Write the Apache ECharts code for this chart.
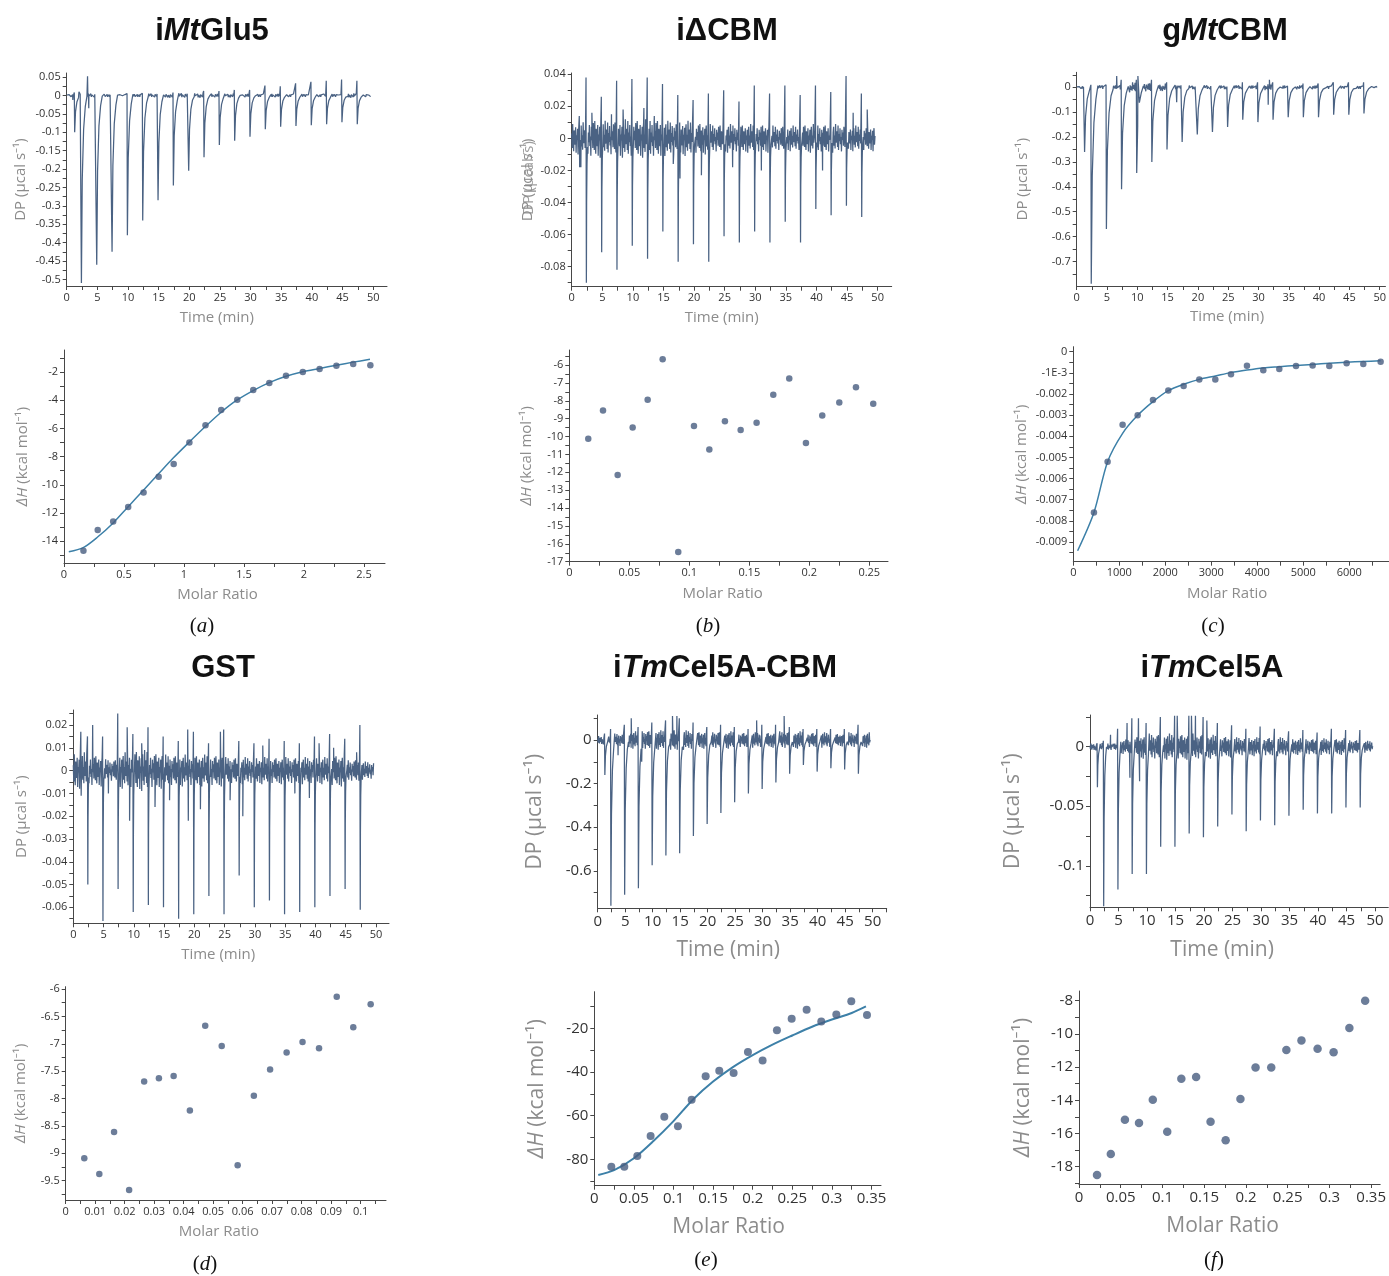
<!DOCTYPE html>
<html>
<head>
<meta charset="utf-8">
<title>ITC thermograms and isotherms</title>
<script src="https://cdn.jsdelivr.net/npm/echarts@6.0.0/dist/echarts.min.js"></script>
<style>
  html, body { margin: 0; padding: 0; background: #ffffff; }
  #chart { width: 1389px; height: 1276px; }
</style>
</head>
<body>
<div id="chart"></div>
<script>
// ---- injection times (min), shared by all six runs
var injT = [1.3, 2.4, 4.9, 7.4, 9.9, 12.4, 14.9, 17.4, 19.9, 22.4, 24.9, 27.4, 29.9, 32.4, 34.9, 37.4, 39.9, 42.4, 44.9, 47.4];

// ---- thermograms: dip minimum, spike maximum, baseline noise band (per injection), extra isolated points [t, DP]
var dipA = [-0.10, -0.51, -0.46, -0.425, -0.38, -0.34, -0.285, -0.245, -0.205, -0.168, -0.135, -0.123, -0.112, -0.092, -0.085, -0.083, -0.081, -0.078, -0.073, -0.078];
var spikeA = [0.008, 0.006, 0.004, 0.004, 0.005, 0.006, 0.008, 0.008, 0.01, 0.012, 0.012, 0.015, 0.015, 0.027, 0.025, 0.033, 0.037, 0.04, 0.043, 0.04];
var noiseA = [0.004, 0.005, 0.004, 0.004, 0.004, 0.005, 0.006, 0.006, 0.006, 0.005, 0.005, 0.005, 0.004, 0.005, 0.004, 0.004, 0.004, 0.004, 0.006, 0.004];
var extraA = [[1.0, -0.012], [2.0, 0.01], [3.4, 0.052], [3.6, -0.035]];

var dipB = [-0.018, -0.09, -0.071, -0.082, -0.067, -0.075, -0.058, -0.077, -0.066, -0.077, -0.061, -0.065, -0.058, -0.065, -0.052, -0.065, -0.044, -0.048, -0.042, -0.049];
var spikeB = [0.014, 0.038, 0.026, 0.036, 0.037, 0.038, 0.034, 0.027, 0.024, 0.028, 0.030, 0.023, 0.033, 0.028, 0.033, 0.027, 0.033, 0.029, 0.039, 0.028];
var noiseB = [0.01, 0.012, 0.011, 0.012, 0.012, 0.012, 0.011, 0.011, 0.01, 0.009, 0.009, 0.009, 0.009, 0.008, 0.008, 0.009, 0.009, 0.009, 0.008, 0.008];
var extraB = [[1.5, -0.018], [3.3, 0.016], [6.5, 0.015], [8.4, 0.018], [11.8, 0.019], [13.5, 0.014], [16.6, -0.016], [17.7, -0.025], [21.2, -0.023], [26.3, -0.018], [31.0, -0.02], [41.0, -0.02], [46.0, 0.016], [48.3, 0.018]];

var dipC = [-0.26, -0.79, -0.57, -0.41, -0.345, -0.30, -0.25, -0.22, -0.19, -0.18, -0.16, -0.13, -0.14, -0.13, -0.12, -0.12, -0.12, -0.11, -0.11, -0.105];
var spikeC = [0.005, 0.01, 0.01, 0.03, 0.03, 0.03, 0.02, 0.01, 0.01, 0.01, 0.01, 0.02, 0.02, 0.02, 0.01, 0.015, 0.015, 0.02, 0.02, 0.02];
var noiseC = [0.006, 0.008, 0.01, 0.02, 0.018, 0.015, 0.01, 0.008, 0.008, 0.008, 0.008, 0.008, 0.012, 0.008, 0.008, 0.008, 0.006, 0.006, 0.006, 0.006];
var extraC = [[6.6, 0.045], [10.1, 0.045], [16.5, -0.06], [31.6, -0.07], [31.8, 0.03]];

var dipD = [-0.011, -0.05, -0.066, -0.052, -0.062, -0.059, -0.06, -0.065, -0.063, -0.055, -0.063, -0.046, -0.06, -0.057, -0.063, -0.062, -0.06, -0.055, -0.052, -0.061];
var spikeD = [0.017, 0.015, 0.015, 0.025, 0.016, 0.019, 0.015, 0.013, 0.017, 0.012, 0.018, 0.013, 0.012, 0.014, 0.013, 0.012, 0.015, 0.016, 0.014, 0.02];
var noiseD = [0.008, 0.007, 0.005, 0.008, 0.009, 0.008, 0.007, 0.007, 0.007, 0.007, 0.006, 0.006, 0.006, 0.006, 0.006, 0.006, 0.006, 0.007, 0.005, 0.004];
var extraD = [[3.2, 0.02], [5.8, -0.01], [8.9, 0.019], [9.3, -0.022], [11.3, 0.012], [13.5, -0.016], [15.9, -0.013], [18.9, 0.018], [19.0, -0.022], [21.0, -0.017], [24.3, 0.017], [25.9, -0.013], [28.0, -0.02], [31.3, 0.011], [36.6, -0.01], [39.0, -0.012], [40.6, 0.012], [43.0, 0.01], [46.8, 0.008]];

var dipE = [-0.16, -0.76, -0.71, -0.68, -0.575, -0.53, -0.52, -0.44, -0.385, -0.335, -0.285, -0.245, -0.225, -0.195, -0.155, -0.115, -0.145, -0.13, -0.135, -0.155];
var spikeE = [0.03, 0.05, 0.07, 0.06, 0.08, 0.09, 0.1, 0.08, 0.06, 0.07, 0.06, 0.05, 0.07, 0.07, 0.06, 0.05, 0.05, 0.05, 0.05, 0.07];
var noiseE = [0.02, 0.03, 0.04, 0.045, 0.045, 0.05, 0.045, 0.04, 0.04, 0.04, 0.035, 0.035, 0.035, 0.04, 0.04, 0.035, 0.035, 0.03, 0.035, 0.035];
var extraE = [[3.7, -0.07], [6.1, 0.1], [8.0, -0.1], [13.6, 0.11], [14.4, 0.11], [28.9, 0.09], [33.9, 0.11]];

var dipF = [-0.034, -0.134, -0.12, -0.107, -0.107, -0.084, -0.084, -0.073, -0.076, -0.067, -0.057, -0.071, -0.062, -0.066, -0.058, -0.053, -0.056, -0.056, -0.051, -0.051];
var spikeF = [0.003, 0.005, 0.015, 0.024, 0.02, 0.025, 0.026, 0.026, 0.025, 0.02, 0.018, 0.015, 0.017, 0.015, 0.013, 0.014, 0.012, 0.015, 0.014, 0.014];
var noiseF = [0.003, 0.003, 0.006, 0.01, 0.011, 0.011, 0.011, 0.011, 0.01, 0.009, 0.008, 0.008, 0.008, 0.008, 0.007, 0.007, 0.007, 0.007, 0.006, 0.005];
var extraF = [[3.6, 0.01], [6.5, 0.02], [7.0, -0.026], [8.5, 0.024], [8.7, -0.029], [15.3, 0.026], [17.8, 0.026], [18.5, 0.026], [20.5, 0.022]];

// hand-typed jitter signature used to draw the baseline noise band
var wiggle = [0.3, -0.6, 0.9, -0.2, -0.8, 0.5, 0.1, -0.4, 0.7, -0.9, 0.2, -0.1, 0.6, -1, 0.4, 0.8, -0.5, 0.2, -0.7, 1, -0.3, 0, 0.5, -0.6, 0.9, -0.8, 0.3, -0.2, 0.7, -0.4, 0.1, -0.9, 0.6, -0.1, 0.4, -0.5, 0.8];

// ---- isotherms
var ratioA = [0.162, 0.281, 0.41, 0.535, 0.663, 0.789, 0.914, 1.045, 1.179, 1.31, 1.444, 1.577, 1.711, 1.85, 1.99, 2.13, 2.27, 2.41, 2.553];
var dhA = [-14.68, -13.2, -12.6, -11.57, -10.55, -9.42, -8.52, -7.0, -5.78, -4.7, -3.97, -3.28, -2.78, -2.27, -2.0, -1.78, -1.55, -1.43, -1.52];
var fitRatioA = [0.04, 0.16, 0.28, 0.41, 0.535, 0.66, 0.79, 0.91, 1.04, 1.18, 1.31, 1.44, 1.58, 1.71, 1.85, 1.99, 2.13, 2.27, 2.41, 2.55];
var fitDhA = [-14.75, -14.45, -13.7, -12.7, -11.55, -10.4, -9.2, -8.1, -7.0, -5.85, -4.85, -4.0, -3.3, -2.75, -2.3, -1.98, -1.75, -1.52, -1.3, -1.1];

var ratioB = [0.0158, 0.0281, 0.0403, 0.0528, 0.0653, 0.0778, 0.0908, 0.1039, 0.1167, 0.1297, 0.1428, 0.1561, 0.17, 0.1833, 0.1972, 0.2108, 0.225, 0.2389, 0.2533];
var dhB = [-10.12, -8.55, -12.15, -9.5, -7.94, -5.68, -16.46, -9.41, -10.72, -9.15, -9.64, -9.23, -7.66, -6.76, -10.36, -8.83, -8.09, -7.25, -8.16];

var ratioC = [449, 746, 1072, 1399, 1732, 2065, 2399, 2739, 3087, 3428, 3775, 4130, 4478, 4841, 5203, 5565, 5942, 6304, 6681];
var dhC = [-0.0076, -0.0052, -0.00345, -0.00301, -0.00229, -0.00184, -0.00162, -0.00132, -0.00132, -0.00107, -0.00066, -0.00088, -0.00082, -0.00068, -0.00065, -0.00068, -0.00055, -0.00058, -0.00047];
var fitRatioC = [94, 449, 746, 1072, 1399, 1732, 2065, 2399, 2739, 3087, 3428, 3775, 4130, 4478, 4841, 5203, 5565, 5942, 6304, 6681];
var fitDhC = [-0.00941, -0.0076, -0.0052, -0.00386, -0.00301, -0.00236, -0.00184, -0.00154, -0.00131, -0.00115, -0.00099, -0.00087, -0.00077, -0.00071, -0.00065, -0.0006, -0.00055, -0.0005, -0.00046, -0.00043];

var ratioD = [0.0063, 0.0114, 0.0164, 0.0215, 0.0266, 0.0316, 0.0366, 0.0421, 0.0473, 0.0529, 0.0583, 0.0638, 0.0693, 0.0749, 0.0803, 0.0859, 0.0919, 0.0975, 0.1034];
var dhD = [-9.09, -9.38, -8.61, -9.67, -7.69, -7.63, -7.59, -8.22, -6.67, -7.04, -9.22, -7.95, -7.47, -7.16, -6.97, -7.08, -6.14, -6.7, -6.28];

var ratioE = [0.0215, 0.0379, 0.0543, 0.0711, 0.0884, 0.1056, 0.1229, 0.1406, 0.1578, 0.1759, 0.194, 0.2125, 0.2306, 0.2492, 0.2681, 0.2866, 0.3056, 0.3245, 0.3443];
var dhE = [-83.4, -83.4, -78.5, -69.3, -60.5, -64.9, -52.7, -42.0, -39.5, -40.5, -30.8, -34.7, -20.9, -15.6, -11.5, -16.9, -13.7, -7.6, -13.9];
var fitRatioE = [0.005, 0.025, 0.05, 0.075, 0.1, 0.125, 0.15, 0.175, 0.2, 0.225, 0.25, 0.275, 0.3, 0.325, 0.343];
var fitDhE = [-87.2, -85, -79.5, -71.5, -62.5, -52.5, -44.4, -37.8, -32.3, -27.5, -23.3, -19.3, -16, -13, -10];

var ratioF = [0.0216, 0.0381, 0.055, 0.0719, 0.0884, 0.1057, 0.1226, 0.1403, 0.1576, 0.1757, 0.1934, 0.2115, 0.2303, 0.2484, 0.2665, 0.2858, 0.305, 0.3239, 0.3428];
var dhF = [-18.5, -17.24, -15.17, -15.37, -13.96, -15.89, -12.7, -12.6, -15.29, -16.41, -13.92, -12.02, -12.02, -10.97, -10.39, -10.89, -11.11, -9.65, -8.0];

// ---- tick labels
var timeTicks = [0, 5, 10, 15, 20, 25, 30, 35, 40, 45, 50];
var dpTicksA = [0.05, 0, -0.05, -0.1, -0.15, -0.2, -0.25, -0.3, -0.35, -0.4, -0.45, -0.5];
var dpTicksB = [0.04, 0.02, 0, -0.02, -0.04, -0.06, -0.08];
var dpTicksC = [0, -0.1, -0.2, -0.3, -0.4, -0.5, -0.6, -0.7];
var dpTicksD = [0.02, 0.01, 0, -0.01, -0.02, -0.03, -0.04, -0.05, -0.06];
var dpTicksE = [0, -0.2, -0.4, -0.6];
var dpTicksF = [0, -0.05, -0.1];
var ratioTicksA = [0, 0.5, 1, 1.5, 2, 2.5];
var ratioTicksB = [0, 0.05, 0.1, 0.15, 0.2, 0.25];
var ratioTicksC = [0, 1000, 2000, 3000, 4000, 5000, 6000];
var ratioTicksD = [0, 0.01, 0.02, 0.03, 0.04, 0.05, 0.06, 0.07, 0.08, 0.09, 0.1];
var ratioTicksEF = [0, 0.05, 0.1, 0.15, 0.2, 0.25, 0.3, 0.35];
var dhTicksA = [-2, -4, -6, -8, -10, -12, -14];
var dhTicksB = [-6, -7, -8, -9, -10, -11, -12, -13, -14, -15, -16, -17];
var dhTicksC = [0, -0.001, -0.002, -0.003, -0.004, -0.005, -0.006, -0.007, -0.008, -0.009];
var dhTicksD = [-6, -6.5, -7, -7.5, -8, -8.5, -9, -9.5];
var dhTicksE = [-20, -40, -60, -80];
var dhTicksF = [-8, -10, -12, -14, -16, -18];

var FONT = '"Open Sans", "Noto Sans", sans-serif';
var TRACE = '#4a6283';
var DOT = '#475c7f';
var FIT = '#3d80a8';

function buildTrace(dips, spikes, noise, extras, w) {
    var pts = [], k = 0;
    function fill(t0, t1, amp) {
        for (var t = t0; t < t1; t += 0.08) {
            pts.push([t, amp * wiggle[k % wiggle.length]]);
            k++;
        }
    }
    fill(0, injT[0] - 0.12, noise[0]);
    injT.forEach(function (t, i) {
        var d = dips[i];
        pts.push([t - 0.06, spikes[i]]);
        pts.push([t, d]);
        pts.push([t + 0.15 * w, d * 0.45]);
        pts.push([t + 0.4 * w, d * 0.18]);
        pts.push([t + 0.7 * w, d * 0.06]);
        var end = i + 1 < injT.length ? injT[i + 1] - 0.12 : 49.6;
        fill(t + w, end, noise[i]);
    });
    extras.forEach(function (e) { pts.push([e[0], e[1]]); });
    pts.sort(function (p, q) { return p[0] - q[0]; });
    return pts;
}

function zip(xs, ys) {
    return xs.map(function (x, i) { return [x, ys[i]]; });
}

function tickList(labels, step, min, max) {
    var out = [];
    for (var n = -400; n <= 400; n++) {
        var v = +(labels[0] + n * step).toFixed(9);
        if (v >= min - 1e-12 && v <= max + 1e-12) out.push(v);
    }
    return out;
}

function fmt(v) {
    if (Math.abs(v + 0.001) < 1e-12) return '-1E-3';
    return String(+v.toFixed(6));
}

// shift: pixels to move the axis title back toward the start of the axis
function axis(gi, min, max, labels, step, fs, name, nfs, gap, shift) {
    var rich = { it: { fontStyle: 'italic', fontFamily: FONT, color: '#8c8c8c', fontSize: nfs } };
    return {
        type: 'value', gridIndex: gi, min: min, max: max,
        name: name, nameLocation: 'middle', nameGap: gap,
        nameTextStyle: { color: '#8c8c8c', fontSize: nfs, fontFamily: FONT, rich: rich, padding: [0, 2 * (shift || 0), 0, 0] },
        axisLine: { show: true, onZero: false, lineStyle: { color: '#474747', width: 1 } },
        axisTick: { show: true, length: 4, customValues: tickList(labels, step, min, max), lineStyle: { color: '#474747', width: 1 } },
        axisLabel: { customValues: labels, fontSize: fs, color: '#333', margin: 6, fontFamily: FONT, formatter: fmt },
        splitLine: { show: false }
    };
}

var DPN = 'DP (µcal s⁻¹)';
var DHN = '{it|ΔH} (kcal mol⁻¹)';
var TN = 'Time (min)';
var MN = 'Molar Ratio';

var grids = [
    { left: 66.7, top: 73, width: 320.3, height: 213 },
    { left: 571.7, top: 73, width: 320, height: 213.7 },
    { left: 1076.7, top: 72.3, width: 312.3, height: 213.7 },
    { left: 64, top: 350, width: 321, height: 213 },
    { left: 569.3, top: 350, width: 318.7, height: 211.7 },
    { left: 1073.3, top: 346.7, width: 315.7, height: 215 },
    { left: 73.3, top: 710, width: 315.7, height: 213.3 },
    { left: 597.7, top: 715, width: 289, height: 193.3 },
    { left: 1090, top: 715, width: 298.3, height: 192.3 },
    { left: 65.7, top: 986.7, width: 320.3, height: 213.3 },
    { left: 594.3, top: 991.7, width: 286.7, height: 194 },
    { left: 1079, top: 991, width: 306, height: 193 }
];

var xAxes = [
    axis(0, 0, 52.25, timeTicks, 2.5, 11, TN, 15, 24, 10),
    axis(1, 0, 52.3, timeTicks, 2.5, 11, TN, 15, 24, 10),
    axis(2, 0, 50.95, timeTicks, 2.5, 11, TN, 15, 23, 4),
    axis(3, 0, 2.675, ratioTicksA, 0.25, 11, MN, 15, 24, 7),
    axis(4, 0, 0.2656, ratioTicksB, 0.025, 11, MN, 15, 25, 6),
    axis(5, 0, 6863, ratioTicksC, 500, 11, MN, 15, 25, 4),
    axis(6, 0, 52.15, timeTicks, 2.5, 11, TN, 15, 24, 13),
    axis(7, 0, 52.55, timeTicks, 2.5, 15, TN, 21, 31, 14),
    axis(8, 0, 52.33, timeTicks, 2.5, 15, TN, 21, 32, 17),
    axis(9, 0, 0.1086, ratioTicksD, 0.005, 11, MN, 15, 24, 7),
    axis(10, 0, 0.362, ratioTicksEF, 0.025, 15, MN, 21, 31, 9),
    axis(11, 0, 0.3608, ratioTicksEF, 0.025, 15, MN, 21, 32, 7)
];

var yAxes = [
    axis(0, -0.518, 0.061, dpTicksA, 0.025, 11, DPN, 15, 38),
    axis(1, -0.0925, 0.0408, dpTicksB, 0.01, 11, DPN, 15, 36),
    axis(2, -0.799, 0.0603, dpTicksC, 0.05, 11, DPN, 15, 46),
    axis(3, -15.54, -0.44, dhTicksA, 1, 11, DHN, 15, 34),
    axis(4, -17.0, -5.161, dhTicksB, 0.5, 11, DHN, 15, 35),
    axis(5, -0.00993, 0.000236, dhTicksC, 0.0005, 11, DHN, 15, 44),
    axis(6, -0.067, 0.02658, dpTicksD, 0.005, 11, DPN, 15, 44),
    axis(7, -0.772, 0.1147, dpTicksE, 0.1, 15, DPN, 21, 52),
    axis(8, -0.1349, 0.02664, dpTicksF, 0.025, 15, DPN, 21, 66),
    axis(9, -9.853, -5.958, dhTicksD, 0.25, 11, DHN, 15, 37),
    axis(10, -92.09, -3.24, dhTicksE, 10, 15, DHN, 21, 47),
    axis(11, -19.04, -7.416, dhTicksF, 1, 15, DHN, 21, 45)
];

function traceSeries(gi, data) {
    return {
        type: 'line', xAxisIndex: gi, yAxisIndex: gi, data: data,
        showSymbol: false, symbol: 'none', clip: true, silent: true,
        lineStyle: { color: TRACE, width: 1.25 }
    };
}
function dotSeries(gi, data, size) {
    return {
        type: 'scatter', xAxisIndex: gi, yAxisIndex: gi, data: data,
        symbolSize: size, itemStyle: { color: DOT }, silent: true, z: 3
    };
}
function fitSeries(gi, data, w) {
    return {
        type: 'line', xAxisIndex: gi, yAxisIndex: gi, data: data,
        showSymbol: false, symbol: 'none', smooth: 0.3, silent: true,
        lineStyle: { color: FIT, width: w }, z: 2
    };
}

var series = [
    traceSeries(0, buildTrace(dipA, spikeA, noiseA, extraA, 0.9)),
    traceSeries(1, buildTrace(dipB, spikeB, noiseB, extraB, 0.25)),
    traceSeries(2, buildTrace(dipC, spikeC, noiseC, extraC, 1.1)),
    fitSeries(3, zip(fitRatioA, fitDhA), 1.5),
    dotSeries(3, zip(ratioA, dhA), 6.5),
    dotSeries(4, zip(ratioB, dhB), 6.5),
    fitSeries(5, zip(fitRatioC, fitDhC), 1.5),
    dotSeries(5, zip(ratioC, dhC), 6.5),
    traceSeries(6, buildTrace(dipD, spikeD, noiseD, extraD, 0.2)),
    traceSeries(7, buildTrace(dipE, spikeE, noiseE, extraE, 0.7)),
    traceSeries(8, buildTrace(dipF, spikeF, noiseF, extraF, 0.5)),
    dotSeries(9, zip(ratioD, dhD), 6.5),
    fitSeries(10, zip(fitRatioE, fitDhE), 2),
    dotSeries(10, zip(ratioE, dhE), 8),
    dotSeries(11, zip(ratioF, dhF), 8.5)
];

var titleRich = {
    r: { fontFamily: '"Liberation Sans", Arial, sans-serif', fontWeight: 'bold', fontSize: 31, fill: '#111' },
    it: { fontFamily: '"Liberation Sans", Arial, sans-serif', fontWeight: 'bold', fontStyle: 'italic', fontSize: 31, fill: '#111' }
};
var labelRich = {
    r: { fontFamily: '"Liberation Serif", "Times New Roman", serif', fontSize: 21, fill: '#111' },
    it: { fontFamily: '"Liberation Serif", "Times New Roman", serif', fontStyle: 'italic', fontSize: 21, fill: '#111' }
};

var titles = [
    [212, 31, '{r|i}{it|Mt}{r|Glu5}'],
    [727, 31, '{r|iΔCBM}'],
    [1225, 31, '{r|g}{it|Mt}{r|CBM}'],
    [223, 668, '{r|GST}'],
    [725, 668, '{r|i}{it|Tm}{r|Cel5A-CBM}'],
    [1212, 668, '{r|i}{it|Tm}{r|Cel5A}']
];
var panelLabels = [
    [202, 626, '{r|(}{it|a}{r|)}'],
    [708, 626, '{r|(}{it|b}{r|)}'],
    [1213, 626, '{r|(}{it|c}{r|)}'],
    [205, 1264, '{r|(}{it|d}{r|)}'],
    [706, 1260, '{r|(}{it|e}{r|)}'],
    [1214, 1260, '{r|(}{it|f}{r|)}']
];

var graphic = [];
titles.forEach(function (t) {
    graphic.push({ type: 'text', x: t[0], y: t[1], style: { text: t[2], rich: titleRich, align: 'center', verticalAlign: 'middle' } });
});
panelLabels.forEach(function (t) {
    graphic.push({ type: 'text', x: t[0], y: t[1], style: { text: t[2], rich: labelRich, align: 'center', verticalAlign: 'middle' } });
});
// the second, overlapping axis title seen in panel (b)
graphic.push({
    type: 'text', x: 529, y: 178, rotation: Math.PI / 2,
    style: { text: 'DP (µcal/s)', fill: '#8c8c8c', font: '15px ' + FONT, align: 'center', verticalAlign: 'middle', opacity: 0.85 }
});

var chart = echarts.init(document.getElementById('chart'), null, { renderer: 'canvas' });
chart.setOption({
    animation: false,
    backgroundColor: '#ffffff',
    grid: grids,
    xAxis: xAxes,
    yAxis: yAxes,
    series: series,
    graphic: graphic
});
</script>
</body>
</html>
